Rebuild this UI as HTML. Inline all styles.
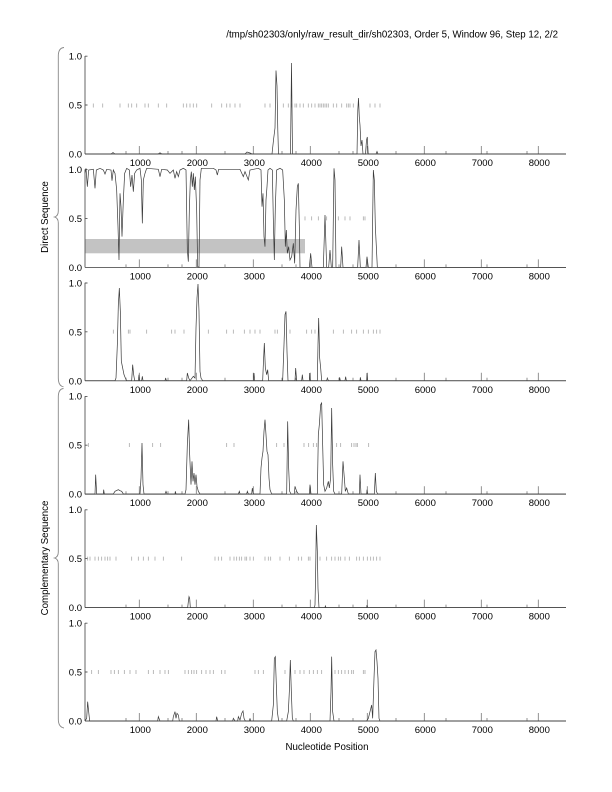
<!DOCTYPE html>
<html><head><meta charset="utf-8"><style>
html,body{margin:0;padding:0;background:#fff;}
svg{display:block;}
text{font-family:"Liberation Sans",Arial,sans-serif;fill:#000;}
</style></head><body>
<svg width="612" height="792" viewBox="0 0 612 792" xmlns="http://www.w3.org/2000/svg">
<rect width="612" height="792" fill="#fff"/>
<text x="558" y="37.5" font-size="9.7" text-anchor="end">/tmp/sh02303/only/raw_result_dir/sh02303, Order 5, Window 96, Step 12, 2/2</text>

<!-- braces -->
<g fill="none" stroke="#888" stroke-width="0.9">
<path d="M64,47.5 Q58.3,48 58.3,56 L58.3,211 Q58.3,216 54.5,217 Q58.3,218 58.3,223 L58.3,378 Q58.3,386 63.5,386.8"/>
<path d="M63.5,388.5 Q58.3,389 58.3,397 L58.3,552 Q58.3,557 54.5,558 Q58.3,559 58.3,564 L58.3,719 Q58.3,727 64,728"/>
</g>
<text transform="translate(48,217) rotate(-90)" font-size="9.7" text-anchor="middle">Direct Sequence</text>
<text transform="translate(48,558) rotate(-90)" font-size="9.7" text-anchor="middle">Complementary Sequence</text>
<text x="327" y="750" font-size="9.7" text-anchor="middle">Nucleotide Position</text>

<!-- gray band panel 2 -->
<rect x="85" y="239" width="220" height="14.3" fill="#c3c3c3"/>

<g stroke="#555" stroke-width="0.9" fill="none">
<path d="M85,56 V154 M85,169.4 V267.4 M85,282.8 V380.8 M85,396.2 V494.2 M85,509.6 V607.6 M85,623 V721"/>
<path d="M85,154 H566 M85,267.4 H566 M85,380.8 H566 M85,494.2 H566 M85,607.6 H566 M85,721 H566"/>
<path d="M85,56.2h2.5M85,105h2.5 M85,169.6h2.5M85,218.4h2.5 M85,283h2.5M85,331.8h2.5 M85,396.4h2.5M85,445.2h2.5 M85,509.8h2.5M85,558.6h2.5 M85,623.2h2.5M85,672h2.5"/>
</g>
<g stroke="#777" stroke-width="0.8" fill="none">
<path id="xt" d="M139.3,0v-8M196.3,0v-8M253.3,0v-8M310.3,0v-8M367.3,0v-8M424.3,0v-8M481.3,0v-8M538.3,0v-8 M126,0v-3M168,0v-3M182,0v-3M225,0v-3M282,0v-3M296,0v-3M339,0v-3M353,0v-3M396,0v-3M446,0v-3M487,0v-3M527,0v-3" transform="translate(0,154)"/>
<use href="#xt" transform="translate(0,113.4)"/>
<use href="#xt" transform="translate(0,226.8)"/>
<use href="#xt" transform="translate(0,340.2)"/>
<use href="#xt" transform="translate(0,453.6)"/>
<use href="#xt" transform="translate(0,567)"/>
</g>

<g font-size="9.5">
<g text-anchor="end">
<text x="82" y="59.5">1.0</text><text x="82" y="108.5">0.5</text><text x="82" y="157.5">0.0</text>
<text x="82" y="172.9">1.0</text><text x="82" y="221.9">0.5</text><text x="82" y="270.9">0.0</text>
<text x="82" y="286.3">1.0</text><text x="82" y="335.3">0.5</text><text x="82" y="384.3">0.0</text>
<text x="82" y="399.7">1.0</text><text x="82" y="448.7">0.5</text><text x="82" y="497.7">0.0</text>
<text x="82" y="513.1">1.0</text><text x="82" y="562.1">0.5</text><text x="82" y="611.1">0.0</text>
<text x="82" y="626.5">1.0</text><text x="82" y="675.5">0.5</text><text x="82" y="724.5">0.0</text>
</g>
<g text-anchor="middle">
<g id="xlab">
<text x="140.3" y="166">1000</text><text x="197.3" y="166">2000</text><text x="254.3" y="166">3000</text><text x="311.3" y="166">4000</text><text x="368.3" y="166">5000</text><text x="425.3" y="166">6000</text><text x="482.3" y="166">7000</text><text x="539.3" y="166">8000</text>
</g>
<use href="#xlab" transform="translate(0,113.4)"/>
<use href="#xlab" transform="translate(0,226.8)"/>
<use href="#xlab" transform="translate(0,340.2)"/>
<use href="#xlab" transform="translate(0,453.6)"/>
<use href="#xlab" transform="translate(0,567)"/>
</g>
</g>

<!-- Panel 1 -->
<path fill="none" stroke="#aaa" stroke-width="0.8" d="M93.3,103.5v4M102.7,103.5v4M120,103.5v4M128.3,103.5v4M131.7,103.5v4M136.7,103.5v4M145,103.5v4M148.3,103.5v4M158.3,103.5v4M166.7,103.5v4M183.3,103.5v4M186.7,103.5v4M190,103.5v4M193.3,103.5v4M196.7,103.5v4M211.7,103.5v4M221.7,103.5v4M226.7,103.5v4M230,103.5v4M235,103.5v4M240,103.5v4M265,103.5v4M270,103.5v4M283.3,103.5v4M288.3,103.5v4M291.7,103.5v4M295,103.5v4M296.7,103.5v4M300,103.5v4M303.3,103.5v4M308.3,103.5v4M311.7,103.5v4M315,103.5v4M318.3,103.5v4M320,103.5v4M321.7,103.5v4M323.3,103.5v4M325,103.5v4M326.7,103.5v4M328.3,103.5v4M333.3,103.5v4M336.7,103.5v4M341.7,103.5v4M346.7,103.5v4M348.3,103.5v4M350,103.5v4M353.3,103.5v4M370,103.5v4M375,103.5v4M380,103.5v4"/>
<path fill="none" stroke="#3a3a3a" stroke-width="0.7" d="M85,154 L111,154 L113,152.5 L115,154 L158,154 L160,152.8 L162,154 L245,154 L247,152 L250,153 L252,154 L272,154 L273.5,140 L275,128 L276,70.5 L277,86 L277.8,130 L278.5,154 L290.5,154 L291.5,63 L292.5,154 L357,154 L357.8,110 L358.5,98 L359.3,117 L360,125 L361,146 L362,140 L363,154 L365.5,154 L366.5,140 L367.3,137 L368.2,154 L376,154 L377,151.5 L378,154 L566,154"/>

<!-- Panel 2 -->
<g transform="translate(80,160) scale(0.33333)" fill="none">
<path stroke="#aaa" stroke-width="2.4" d="M675,169v12M695,169v12M715,169v12M740,169v12M775,169v12M795,169v12M810,169v12M850,169v12M855,169v12"/>
<path stroke="#3a3a3a" stroke-width="2.1" d="M15,40 L18,25 L22,80 L26,30 L40,28 L45,85 L49,30 L60,25 L70,30 L75,42 L80,28 L93,30 L96,62 L100,30 L105,40 L110,90 L114,200 L117,300 L120,100 L123,140 L126,230 L130,120 L134,40 L140,25 L148,30 L152,80 L156,45 L160,95 L164,40 L170,30 L180,25 L184,60 L187,190 L190,60 L195,40 L200,25 L235,28 L240,50 L245,28 L262,30 L270,40 L280,30 L285,55 L290,35 L295,50 L300,30 L310,25 L318,30 L322,270 L325,305 L328,150 L331,60 L334,35 L337,80 L340,40 L343,90 L346,50 L350,150 L353,320 L357,322 L360,60 L364,25 L400,25 L408,30 L412,45 L416,28 L480,28 L490,50 L495,35 L505,60 L510,30 L520,28 L535,25 L543,30 L546,140 L549,100 L552,230 L555,260 L558,120 L561,80 L564,30 L570,25 L577,30 L580,180 L583,300 L586,140 L590,30 L600,25 L608,30 L613,120 L616,260 L619,210 L622,280 L626,260 L630,300 L635,290 L640,250 L644,310 L648,150 L652,80 L655,70 L658,200 L660,322 L688,322 L692,280 L696,322 L730,322 L735,165 L740,322 L746,322 L750,270 L754,322 L758,322 L762,25 L765,60 L768,322 L782,322 L785,260 L789,322 L833,322 L837,240 L841,322 L858,322 L861,290 L865,322 L876,322 L880,30 L883,60 L886,200 L889,260 L892,322 L1458,322"/>
</g>

<!-- Panels 3 & 4 -->
<g transform="translate(80,278) scale(0.33333)" fill="none">
<path stroke="#aaa" stroke-width="2.4" d="M100,155v12M145,155v12M150,155v12M200,155v12M275,155v12M285,155v12M312,155v12M385,155v12M440,155v12M460,155v12M493,155v12M510,155v12M525,155v12M540,155v12M585,155v12M592,155v12M630,155v12M680,155v12M695,155v12M705,155v12M760,155v12M790,155v12M815,155v12M830,155v12M850,155v12M865,155v12M880,155v12M890,155v12M900,155v12
M25,495v12M148,495v12M218,495v12M242,495v12M440,495v12M462,495v12M590,495v12M612,495v12M672,495v12M686,495v12M700,495v12M710,495v12M770,495v12M782,495v12M815,495v12M822,495v12M828,495v12M832,495v12M866,495v12"/>
<path stroke="#3a3a3a" stroke-width="2.1" d="M15,308 L105,308 L108,300 L112,200 L115,80 L118,30 L121,100 L124,250 L128,270 L132,290 L136,300 L140,308 L155,308 L158,260 L161,290 L164,308 L175,308 L177,290 L179,308 L185,308 L187,295 L189,308 L255,308 L257,300 L259,308 L320,308 L322,285 L326,300 L330,308 L340,295 L345,300 L348,150 L351,60 L354,18 L357,100 L360,280 L363,300 L368,308 L520,308 L522,285 L524,308 L548,308 L550,260 L553,195 L556,270 L560,290 L563,275 L566,308 L608,308 L612,200 L615,110 L618,100 L621,220 L624,308 L645,308 L647,270 L650,308 L665,308 L667,290 L669,308 L688,308 L689,285 L691,308 L712,308 L714,200 L716,120 L719,240 L722,270 L725,308 L740,308 L742,300 L745,308 L778,308 L779,298 L781,308 L795,308 L797,296 L799,308 L840,308 L841,298 L843,308 L860,308 L861,285 L863,308 L1458,308"/>
<path stroke="#3a3a3a" stroke-width="2.1" d="M15,648 L45,648 L47,590 L50,648 L70,648 L71,635 L73,648 L100,648 L105,640 L115,635 L120,638 L125,640 L130,648 L180,648 L183,600 L186,495 L189,620 L192,648 L255,648 L258,640 L261,648 L285,648 L286,640 L288,648 L315,648 L318,635 L322,500 L326,425 L329,530 L333,620 L336,550 L339,610 L342,585 L345,620 L348,590 L351,625 L355,640 L360,648 L475,648 L478,640 L480,648 L500,648 L502,640 L505,648 L515,648 L517,630 L520,648 L540,648 L543,570 L546,540 L549,520 L552,460 L555,425 L558,470 L561,520 L564,530 L567,600 L570,635 L575,648 L620,648 L623,430 L626,570 L629,640 L633,648 L643,648 L645,625 L650,640 L655,648 L688,648 L690,620 L693,648 L712,648 L715,470 L718,440 L722,380 L725,375 L728,500 L731,620 L735,640 L740,630 L745,610 L748,630 L752,600 L755,390 L758,560 L761,640 L765,648 L785,648 L789,550 L793,600 L796,640 L800,630 L805,648 L838,648 L840,590 L843,648 L860,648 L861,635 L863,648 L883,648 L886,585 L889,640 L893,648 L1458,648"/>
</g>

<!-- Panels 5 & 6 -->
<g transform="translate(80,505) scale(0.33333)" fill="none">
<path stroke="#aaa" stroke-width="2.4" d="M23,155v12M30,155v12M45,155v12M55,155v12M65,155v12M75,155v12M83,155v12M90,155v12M108,155v12M155,155v12M175,155v12M190,155v12M205,155v12M225,155v12M250,155v12M305,155v12M405,155v12M415,155v12M425,155v12M450,155v12M462,155v12M470,155v12M478,155v12M485,155v12M495,155v12M500,155v12M510,155v12M520,155v12M555,155v12M565,155v12M572,155v12M600,155v12M628,155v12M655,155v12M665,155v12M685,155v12M690,155v12M720,155v12M740,155v12M755,155v12M765,155v12M775,155v12M782,155v12M795,155v12M808,155v12M830,155v12M838,155v12M850,155v12M862,155v12M872,155v12M880,155v12M890,155v12M900,155v12
M35,495v12M55,495v12M93,495v12M103,495v12M115,495v12M133,495v12M150,495v12M168,495v12M205,495v12M220,495v12M240,495v12M255,495v12M265,495v12M315,495v12M325,495v12M335,495v12M342,495v12M350,495v12M365,495v12M378,495v12M390,495v12M400,495v12M425,495v12M435,495v12M525,495v12M535,495v12M550,495v12M615,495v12M645,495v12M660,495v12M672,495v12M688,495v12M700,495v12M712,495v12M725,495v12M765,495v12M775,495v12M785,495v12M795,495v12M805,495v12M815,495v12M820,495v12M850,495v12M855,495v12"/>
<path stroke="#3a3a3a" stroke-width="2.1" d="M15,308 L323,308 L325,290 L327,275 L329,280 L331,308 L690,308 L703,308 L705,300 L707,200 L709,60 L712,140 L714,250 L717,308 L735,308 L736,303 L738,308 L860,308 L861,300 L863,308 L1458,308"/>
<path stroke="#3a3a3a" stroke-width="2.1" d="M15,648 L20,640 L23,590 L26,620 L29,648 L233,648 L235,635 L240,648 L278,648 L280,635 L285,620 L288,640 L291,625 L295,630 L298,648 L408,648 L410,635 L413,648 L458,648 L460,640 L465,648 L473,648 L475,635 L480,645 L485,625 L489,618 L492,640 L496,648 L508,648 L510,640 L512,648 L575,648 L580,600 L583,460 L586,455 L589,540 L592,620 L596,648 L620,648 L625,620 L628,560 L631,465 L634,560 L637,640 L640,648 L750,648 L753,560 L755,455 L758,620 L762,648 L860,648 L865,640 L870,620 L875,600 L878,640 L882,520 L885,440 L888,435 L891,470 L894,520 L897,640 L900,648 L1458,648"/>
</g>
</svg>
</body></html>
